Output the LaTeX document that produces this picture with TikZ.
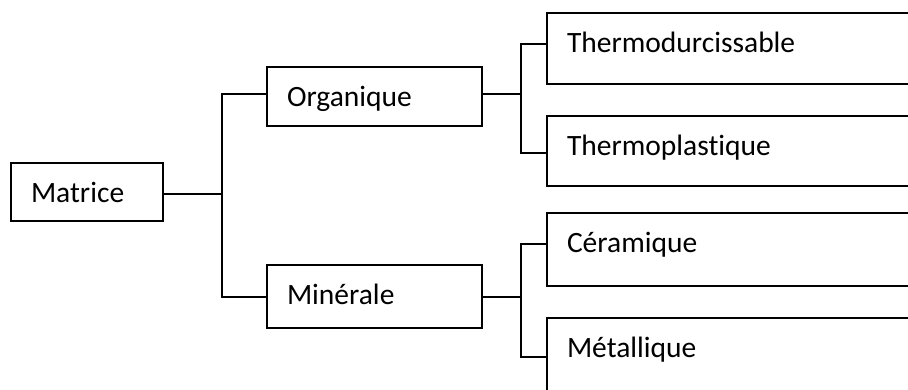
\documentclass[tikz,border=0pt]{standalone}
\usepackage{fontspec}
\setmainfont[Ligatures=NoCommon]{Carlito}
\begin{document}
\begin{tikzpicture}[x=1pt,y=-1pt,
  box/.style={draw, line width=1.5pt, anchor=north west, inner xsep=20pt,
    inner ysep=0pt, outer sep=0pt, align=left,
    font=\fontsize{29.5}{35}\selectfont, text height=39pt},
  link/.style={line width=1.5pt, line join=miter}]
  \clip (0,0) rectangle (908,389);
  \fill[white] (0,0) rectangle (908,389);

  % root and first level
  \node[box, text width=112pt, text depth=19pt] (mat) at (11,163) {Matrice};
  \node[box, text width=175pt, text depth=20pt] (org) at (267,67) {Organique};
  \node[box, text width=175pt, text depth=24pt] (min) at (267,265) {Minérale};

  % second level, running past the right edge
  \node[box, text width=400pt, text depth=32pt] (td) at (547,13) {Thermodurcissable};
  \node[box, text width=400pt, text depth=31pt] (tp) at (547,116) {Thermoplastique};
  \node[box, text width=400pt, text depth=34pt] (cer) at (547,213) {Céramique};
  \node[box, text width=400pt, text depth=34pt] (met) at (547,318) {Métallique};

  % junction points of the brackets
  \coordinate (j1) at (222,194);
  \coordinate (j1a) at (222,94);
  \coordinate (j1b) at (222,297);
  \coordinate (j2) at (521,94);
  \coordinate (j2a) at (521,44);
  \coordinate (j2b) at (521,153);
  \coordinate (j3) at (521,297);
  \coordinate (j3a) at (521,244);
  \coordinate (j3b) at (521,357);

  \draw[link] (j1 -| mat.east) -- (j1);
  \draw[link] (j1a -| org.west) -- (j1a) -- (j1b) -- (j1b -| min.west);

  \draw[link] (j2 -| org.east) -- (j2);
  \draw[link] (j2a -| td.west) -- (j2a) -- (j2b) -- (j2b -| tp.west);

  \draw[link] (j3 -| min.east) -- (j3);
  \draw[link] (j3a -| cer.west) -- (j3a) -- (j3b) -- (j3b -| met.west);
\end{tikzpicture}
\end{document}
